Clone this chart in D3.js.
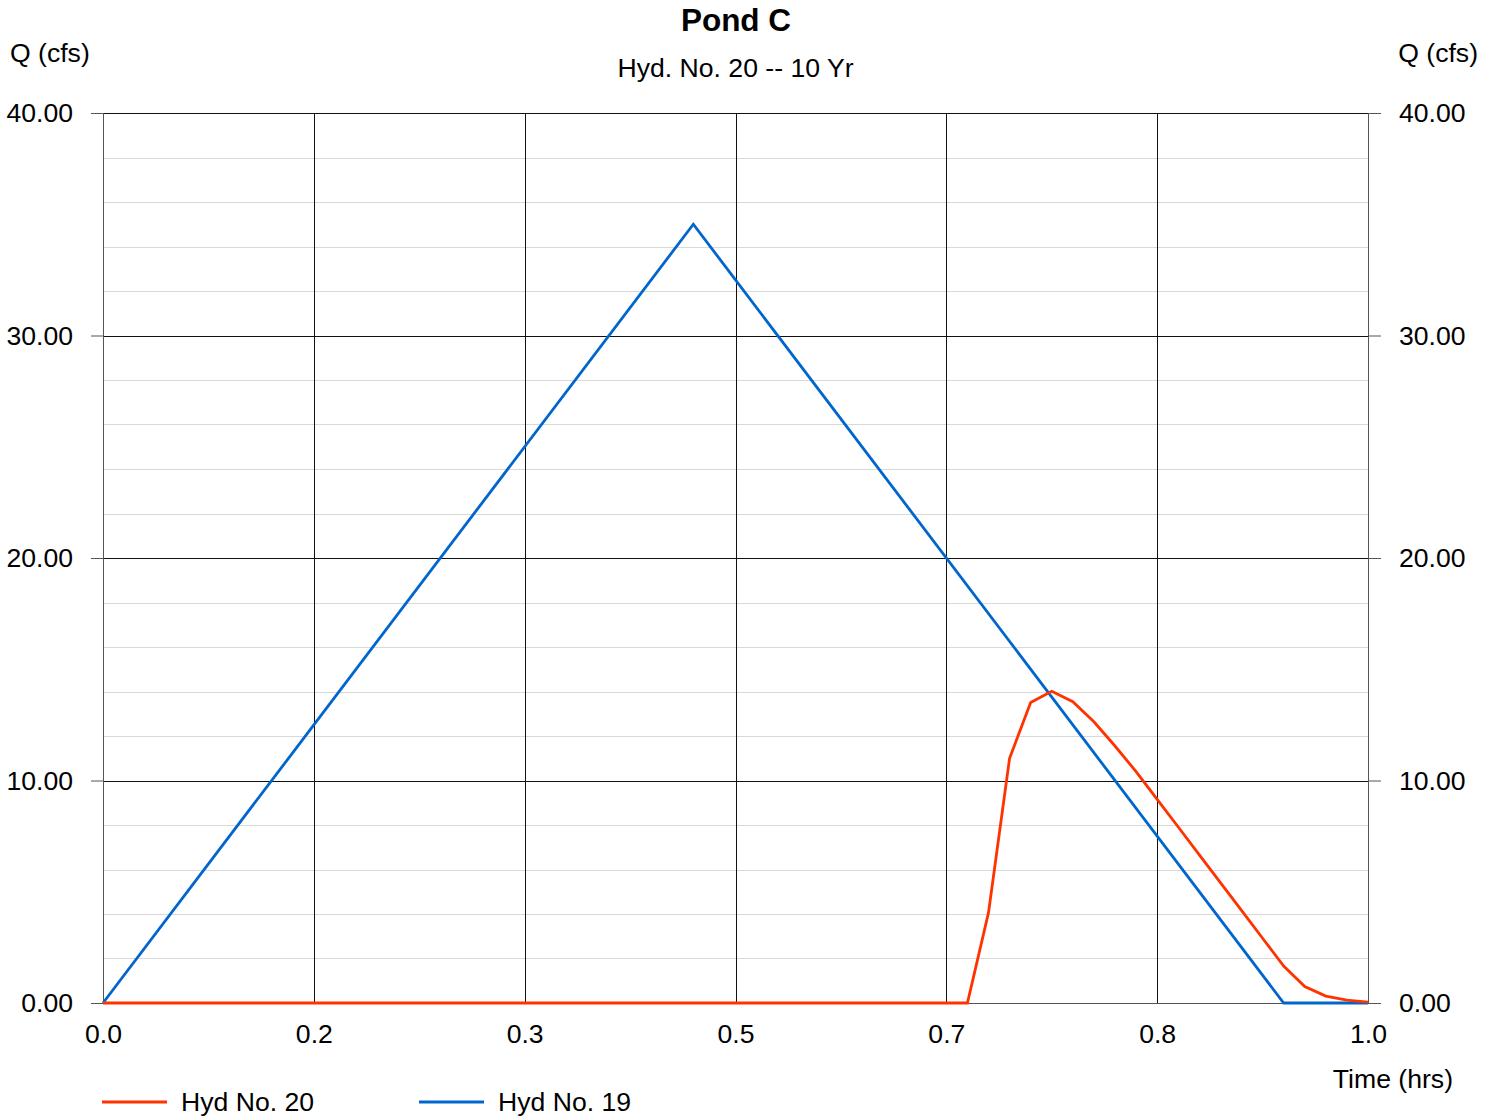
<!DOCTYPE html>
<html>
<head>
<meta charset="utf-8">
<script src="https://cdn.jsdelivr.net/npm/d3@7"></script>
<style>
  body { margin: 0; background: #fff; }
  svg { display: block; font-family: "Liberation Sans", Arial, Helvetica, sans-serif; }
</style>
</head>
<body>
<svg id="chart" width="1497" height="1118"></svg>
<script>
// ---- Data ----
const title = "Pond C";
const subtitle = "Hyd. No. 20 -- 10 Yr";
const yAxisLabel = "Q (cfs)";
const xAxisLabel = "Time (hrs)";

const xTickValues = [0, 1/6, 2/6, 3/6, 4/6, 5/6, 1];
const xTickLabels = ["0.0", "0.2", "0.3", "0.5", "0.7", "0.8", "1.0"];
const yMajorTicks = [0, 10, 20, 30, 40];
const yTickLabels = ["0.00", "10.00", "20.00", "30.00", "40.00"];
const yMinorTicks = [2, 4, 6, 8, 12, 14, 16, 18, 22, 24, 26, 28, 32, 34, 36, 38];

// Hyd No. 19 (inflow) — time in minutes, flow in cfs
const hyd19Minutes = [0, 28, 56, 57, 58, 59, 60];
const hyd19Flow    = [0, 35.0, 0, 0, 0, 0, 0];

// Hyd No. 20 (pond outflow) — time in minutes, flow in cfs
const hyd20Minutes = [0, 41, 42, 43, 44, 45, 46, 47, 48, 49, 50, 51, 52, 53, 54, 55, 56, 57, 58, 59, 60];
const hyd20Flow    = [0, 0, 4.06, 11.0, 13.51, 14.01, 13.54, 12.64, 11.55, 10.40, 9.15, 7.91, 6.66, 5.41, 4.16, 2.91, 1.66, 0.74, 0.31, 0.13, 0.04];

const seriesNames = ["Hyd No. 20", "Hyd No. 19"];
const seriesColors = ["#ff3300", "#0066cc"];

// ---- Layout ----
(function () {
const svg = d3.select("#chart");
const pL = 103, pR = 1368, pT = 113, pB = 1003;
const x = d3.scaleLinear().domain([0, 1]).range([pL, pR]);
const y = d3.scaleLinear().domain([0, 40]).range([pB, pT]);
const FS = 26.6;

// minor grid
svg.append("g").selectAll("line").data(yMinorTicks).join("line")
  .attr("x1", pL).attr("x2", pR)
  .attr("y1", d => Math.round(y(d)) + 0.5).attr("y2", d => Math.round(y(d)) + 0.5)
  .attr("stroke", "#d9d9d9").attr("stroke-width", 1);

// major horizontal grid
svg.append("g").selectAll("line").data(yMajorTicks).join("line")
  .attr("x1", pL).attr("x2", pR)
  .attr("y1", d => Math.round(y(d)) + 0.5).attr("y2", d => Math.round(y(d)) + 0.5)
  .attr("stroke", d => d === 0 ? "#555" : "#111").attr("stroke-width", 1);

// major vertical grid
svg.append("g").selectAll("line").data(xTickValues).join("line")
  .attr("x1", d => Math.round(x(d)) + 0.5).attr("x2", d => Math.round(x(d)) + 0.5)
  .attr("y1", pT).attr("y2", pB)
  .attr("stroke", (d, i) => (i === 0 || i === xTickValues.length - 1) ? "#555" : "#111").attr("stroke-width", 1);

// axes
function styleAxis(g) {
  g.select(".domain").remove();
  g.selectAll("text").attr("font-size", FS).attr("fill", "#000")
    .attr("font-family", "'Liberation Sans', Arial, sans-serif");
  g.selectAll("line").attr("stroke", "#555");
}
const yFmt = d => yTickLabels[yMajorTicks.indexOf(d)];
svg.append("g").attr("transform", `translate(${pL},0)`)
  .call(d3.axisLeft(y).tickValues(yMajorTicks).tickFormat(yFmt).tickSize(12).tickPadding(18))
  .call(styleAxis)
  .selectAll("text").attr("dy", "0.33em");
svg.append("g").attr("transform", `translate(${pR},0)`)
  .call(d3.axisRight(y).tickValues(yMajorTicks).tickFormat(yFmt).tickSize(13).tickPadding(18))
  .call(styleAxis)
  .selectAll("text").attr("dy", "0.33em");
svg.append("g").attr("transform", `translate(0,${pB})`)
  .call(d3.axisBottom(x).tickValues(xTickValues).tickFormat((d, i) => xTickLabels[i]).tickSize(0).tickPadding(21))
  .call(styleAxis);

// lines
const line = d3.line().x(d => x(d[0] / 60)).y(d => y(d[1]));
const hyd19 = hyd19Minutes.map((t, i) => [t, hyd19Flow[i]]);
const hyd20 = hyd20Minutes.map((t, i) => [t, hyd20Flow[i]]);
svg.append("path").datum(hyd19).attr("d", line)
  .attr("fill", "none").attr("stroke", seriesColors[1]).attr("stroke-width", 2.8)
  .attr("stroke-linejoin", "miter");
svg.append("path").datum(hyd20).attr("d", line)
  .attr("fill", "none").attr("stroke", seriesColors[0]).attr("stroke-width", 2.8)
  .attr("stroke-linejoin", "miter");

// titles
svg.append("text").attr("x", 736).attr("y", 31).attr("text-anchor", "middle")
  .attr("font-size", 31.5).attr("font-weight", "bold").text(title);
svg.append("text").attr("x", 735.5).attr("y", 77).attr("text-anchor", "middle")
  .attr("font-size", FS).text(subtitle);
svg.append("text").attr("x", 10).attr("y", 62).attr("font-size", FS).text(yAxisLabel);
svg.append("text").attr("x", 1478).attr("y", 62).attr("text-anchor", "end").attr("font-size", FS).text(yAxisLabel);
svg.append("text").attr("x", 1453).attr("y", 1088).attr("text-anchor", "end").attr("font-size", FS).text(xAxisLabel);

// legend
const legendX = [102, 419];
seriesNames.forEach((name, i) => {
  const g = svg.append("g");
  g.append("line").attr("x1", legendX[i]).attr("x2", legendX[i] + 65)
    .attr("y1", 1102).attr("y2", 1102)
    .attr("stroke", seriesColors[i]).attr("stroke-width", 3);
  g.append("text").attr("x", legendX[i] + 79).attr("y", 1111)
    .attr("font-size", FS).text(name);
});
})();
</script>
</body>
</html>
